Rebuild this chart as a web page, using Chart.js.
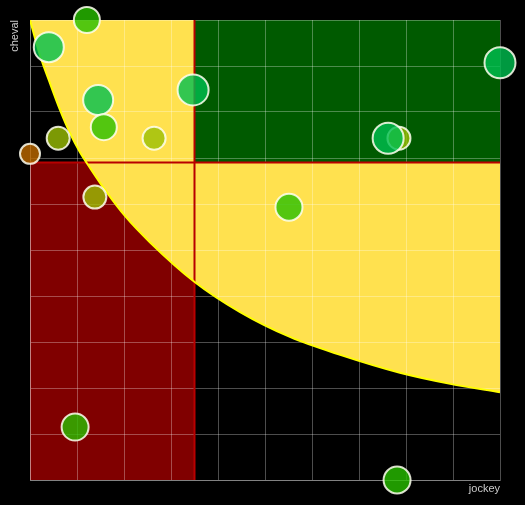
<!DOCTYPE html>
<html>
<head>
<meta charset="utf-8">
<script src="https://cdn.jsdelivr.net/npm/chart.js@4.4.0/dist/chart.umd.min.js"></script>
<style>
  html, body { margin: 0; padding: 0; background: #000; }
  #wrap { width: 525px; height: 505px; }
</style>
</head>
<body>
<div id="wrap"><canvas id="chart" width="525" height="505"></canvas></div>
<script>
// data (axes run 0..10, no tick labels)
const jockey = [1.21, 0.40, 1.45, 1.57, 0.60, 2.64, 0.00, 1.38, 3.47, 10.0, 7.85, 7.62, 5.51, 0.96, 7.81];
const cheval = [10.0, 9.41, 8.26, 7.67, 7.43, 7.43, 7.09, 6.15, 8.48, 9.07, 7.43, 7.43, 5.93, 1.15, 0.00];
const sizes  = [13, 15, 15, 13, 11.5, 11.5, 10, 11.5, 15.5, 15.5, 11.5, 15.5, 13.5, 13.5, 13.5];
const groups = ['A', 'B', 'B', 'A', 'C', 'C', 'D', 'C', 'B', 'B', 'C', 'B', 'A', 'A', 'A'];

// yellow boundary curve, read point by point
const courbeJockey = [0, 0.21, 0.43, 0.64, 0.85, 1.06, 1.28, 1.60, 2.02, 2.55, 3.51, 4.47, 5.53, 6.60, 7.87, 8.94, 10.0];
const courbeCheval = [10.0, 9.24, 8.61, 8.04, 7.54, 7.13, 6.78, 6.30, 5.74, 5.17, 4.30, 3.65, 3.11, 2.72, 2.33, 2.09, 1.91];

// zone thresholds
const seuilJockey = 3.5;
const seuilCheval = 6.9;

const groupColors = {
  A: 'rgba(40,191,0,0.8)',
  B: 'rgba(0,191,80,0.8)',
  C: 'rgba(155,191,5,0.8)',
  D: 'rgba(191,106,0,0.8)'
};

const points = jockey.map((x, i) => ({ x, y: cheval[i], r: sizes[i] }));
const courbe = courbeJockey.map((x, i) => ({ x, y: courbeCheval[i] }));

// coloured zones under the grid, red cross above it
const zones = {
  id: 'zones',
  beforeDraw(chart) {
    const { ctx, chartArea: a, scales: { x, y } } = chart;
    const sx = x.getPixelForValue(seuilJockey);
    const sy = y.getPixelForValue(seuilCheval);
    ctx.save();
    ctx.beginPath();
    ctx.rect(a.left, a.top, a.right - a.left, a.bottom - a.top);
    ctx.clip();
    // red bottom-left
    ctx.fillStyle = '#800000';
    ctx.fillRect(a.left, sy, sx - a.left, a.bottom - sy);
    // yellow: above the curve (uses the line element's own path)
    const line = chart.getDatasetMeta(1).dataset;
    ctx.beginPath();
    line.path(ctx);
    ctx.lineTo(a.right, a.top);
    ctx.closePath();
    ctx.fillStyle = '#ffe14f';
    ctx.fill();
    // green top-right
    ctx.fillStyle = '#005a00';
    ctx.fillRect(sx, a.top, a.right - sx, sy - a.top);
    ctx.restore();
  },
  beforeDatasetsDraw(chart) {
    const { ctx, chartArea: a, scales: { x, y } } = chart;
    const sx = x.getPixelForValue(seuilJockey);
    const sy = y.getPixelForValue(seuilCheval);
    ctx.save();
    ctx.strokeStyle = '#b80000';
    ctx.lineWidth = 2;
    ctx.beginPath();
    ctx.moveTo(a.left, sy); ctx.lineTo(a.right, sy);
    ctx.moveTo(sx, a.top); ctx.lineTo(sx, a.bottom);
    ctx.stroke();
    ctx.restore();
  }
};

const gridStyle = { color: 'rgba(255,255,255,0.3)', lineWidth: 1, drawTicks: false };
const titleFont = { family: "'Liberation Sans', Arial, sans-serif", size: 11 };

new Chart(document.getElementById('chart'), {
  type: 'bubble',
  data: {
    datasets: [{
      data: points,
      backgroundColor: groups.map(g => groupColors[g]),
      borderColor: 'rgba(255,255,240,0.85)',
      borderWidth: 2,
      clip: false
    }, {
      type: 'line',
      data: courbe,
      borderColor: '#ffff00',
      borderWidth: 2,
      pointRadius: 0,
      cubicInterpolationMode: 'monotone',
      fill: false
    }]
  },
  options: {
    responsive: false,
    devicePixelRatio: 1,
    animation: false,
    layout: { padding: { top: 20, right: 25, left: 0, bottom: 0 } },
    plugins: { legend: { display: false }, tooltip: { enabled: false } },
    scales: {
      x: {
        type: 'linear', min: 0, max: 10,
        ticks: { display: false, stepSize: 1 },
        grid: gridStyle,
        border: { color: 'rgba(255,255,255,0.3)' },
        title: { display: true, text: 'jockey', align: 'end', color: '#cccccc', font: titleFont, padding: { top: 0, bottom: 9 } },
        afterFit(s) { s.height = 25; }
      },
      y: {
        type: 'linear', min: 0, max: 10,
        ticks: { display: false, stepSize: 1 },
        grid: gridStyle,
        border: { color: 'rgba(255,255,255,0.3)' },
        title: { display: true, text: 'cheval', align: 'end', color: '#cccccc', font: titleFont, padding: { top: 8, bottom: 0 } },
        afterFit(s) { s.width = 30; }
      }
    }
  },
  plugins: [zones]
});
</script>
</body>
</html>
